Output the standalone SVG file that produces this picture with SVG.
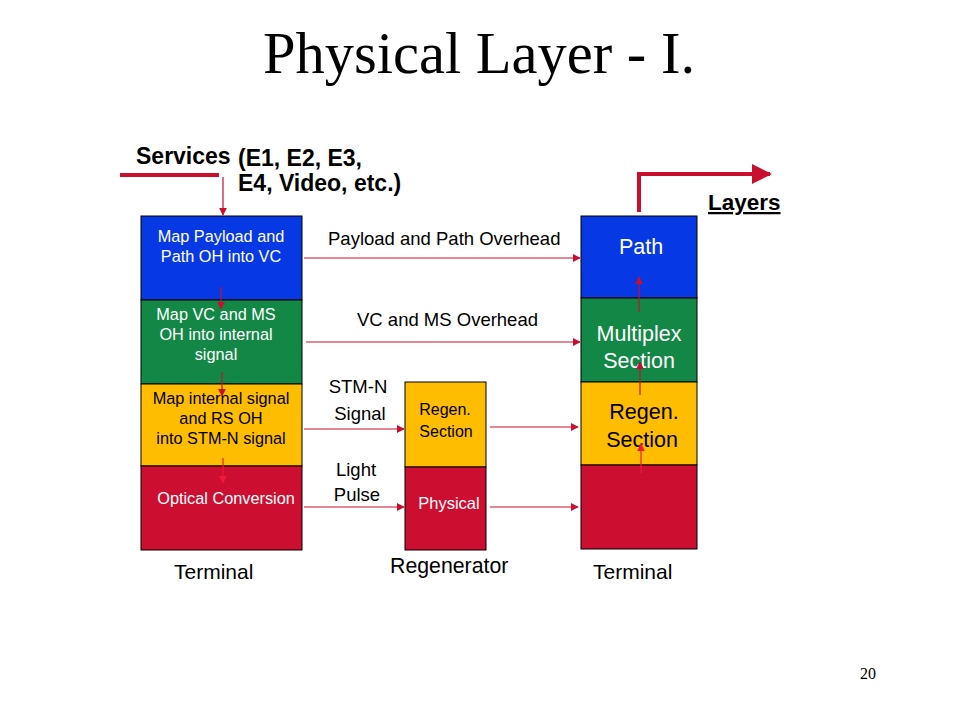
<svg xmlns="http://www.w3.org/2000/svg" width="960" height="720" viewBox="0 0 960 720">
<style>
.s{font-family:"Liberation Sans",Arial,sans-serif}
.w{fill:#fff}
.k{fill:#000}
.box{stroke:#000;stroke-width:1}
.blue{fill:#0639E4}
.green{fill:#138746}
.yellow{fill:#FFBD00}
.red{fill:#CC0E31}
.ln{stroke:#C8102E;stroke-width:1.2;fill:none}
.br{stroke:#F01A3A}
.thick{stroke:#C8102E;stroke-width:4;fill:none}
</style>
<defs>
<marker id="ah" viewBox="0 0 10 10" refX="9" refY="5" markerWidth="8" markerHeight="8" markerUnits="userSpaceOnUse" orient="auto"><path d="M0,0L10,5L0,10z" fill="#C8102E"/></marker>
<marker id="ahb" viewBox="0 0 10 10" refX="9" refY="5" markerWidth="8" markerHeight="8" markerUnits="userSpaceOnUse" orient="auto"><path d="M0,0L10,5L0,10z" fill="#F01A3A"/></marker>
<marker id="big" viewBox="0 0 10 10" refX="9" refY="5" markerWidth="5" markerHeight="5" orient="auto"><path d="M0,0L10,5L0,10z" fill="#C8102E"/></marker>
</defs>
<rect width="960" height="720" fill="#fff"/>
<text x="479" y="73" text-anchor="middle" font-family="Liberation Serif,serif" font-size="58.5" class="k">Physical Layer - I.</text>

<g id="left-terminal">
<rect class="box blue" x="141" y="216" width="161" height="84"/>
<rect class="box green" x="141" y="300" width="161" height="84"/>
<rect class="box yellow" x="141" y="384" width="161" height="82"/>
<rect class="box red" x="141" y="466" width="161" height="84"/>
<text class="s w" font-size="16.3" text-anchor="middle"><tspan x="221" y="242">Map Payload and</tspan><tspan x="221" y="262">Path OH into VC</tspan></text>
<text class="s w" font-size="16.3" text-anchor="middle"><tspan x="216" y="320">Map VC and MS</tspan><tspan x="216" y="340">OH into internal</tspan><tspan x="216" y="360">signal</tspan></text>
<text class="s k" font-size="16.3" text-anchor="middle"><tspan x="221" y="404">Map internal signal</tspan><tspan x="221" y="424">and RS OH</tspan><tspan x="221" y="444">into STM-N signal</tspan></text>
<text class="s w" font-size="16.3" text-anchor="middle" x="226" y="504">Optical Conversion</text>
<text class="s k" font-size="21" x="174" y="579">Terminal</text>
</g>

<g id="regenerator">
<rect class="box yellow" x="405" y="382" width="81" height="85"/>
<rect class="box red" x="405" y="467" width="81" height="83"/>
<text class="s k" font-size="16" text-anchor="middle"><tspan x="445" y="415">Regen.</tspan><tspan x="446" y="437">Section</tspan></text>
<text class="s w" font-size="16.5" text-anchor="middle" x="449" y="509">Physical</text>
<text class="s k" font-size="21.3" x="390" y="573">Regenerator</text>
</g>

<g id="right-terminal">
<rect class="box blue" x="581" y="216" width="116" height="82"/>
<rect class="box green" x="581" y="298" width="116" height="84"/>
<rect class="box yellow" x="581" y="382" width="116" height="83"/>
<rect class="box red" x="581" y="465" width="116" height="84"/>
<text class="s w" font-size="21.5" text-anchor="middle" x="641" y="254">Path</text>
<text class="s w" font-size="21.5" text-anchor="middle"><tspan x="639" y="341">Multiplex</tspan><tspan x="639" y="368">Section</tspan></text>
<text class="s k" font-size="21.5" text-anchor="middle"><tspan x="644" y="419">Regen.</tspan><tspan x="642" y="447">Section</tspan></text>
<text class="s k" font-size="21" x="593" y="579">Terminal</text>
</g>

<g id="labels">
<text class="s k" font-size="23" font-weight="bold" x="136" y="164">Services</text>
<text class="s k" font-size="23" font-weight="bold"><tspan x="238" y="166">(E1, E2, E3,</tspan><tspan x="238" y="191">E4, Video, etc.)</tspan></text>
<text class="s k" font-size="22.5" font-weight="bold" text-decoration="underline" x="708" y="210">Layers</text>
<text class="s k" font-size="18.5" x="328" y="245">Payload and Path Overhead</text>
<text class="s k" font-size="18.5" x="357" y="326">VC and MS Overhead</text>
<text class="s k" font-size="18.5" text-anchor="middle"><tspan x="358" y="393">STM-N</tspan><tspan x="360" y="420">Signal</tspan></text>
<text class="s k" font-size="18.5" text-anchor="middle"><tspan x="356" y="476">Light</tspan><tspan x="357" y="501">Pulse</tspan></text>
<text font-family="Liberation Serif,serif" font-size="16" class="k" x="860" y="679">20</text>
</g>

<g id="connectors">
<line class="thick" x1="120" y1="175" x2="219" y2="175"/>
<line class="ln" stroke-width="2" x1="223" y1="177" x2="223" y2="215" marker-end="url(#ah)"/>
<polyline class="thick" points="639,212 639,174 770,174" marker-end="url(#big)"/>
<line class="ln" x1="304" y1="258" x2="580" y2="258" marker-end="url(#ah)"/>
<line class="ln" x1="306" y1="342" x2="580" y2="342" marker-end="url(#ah)"/>
<line class="ln" x1="304" y1="429" x2="404" y2="429" marker-end="url(#ah)"/>
<line class="ln" x1="490" y1="427" x2="578" y2="427" marker-end="url(#ah)"/>
<line class="ln" x1="304" y1="507" x2="404" y2="507" marker-end="url(#ah)"/>
<line class="ln" x1="490" y1="507" x2="578" y2="507" marker-end="url(#ah)"/>
<line class="ln" x1="221" y1="287" x2="221" y2="309" marker-end="url(#ah)"/>
<line class="ln" x1="222" y1="372" x2="222" y2="396" marker-end="url(#ah)"/>
<line class="ln br" x1="223" y1="458" x2="223" y2="483" marker-end="url(#ahb)"/>
<line class="ln" x1="639" y1="312" x2="639" y2="277" marker-end="url(#ah)"/>
<line class="ln" x1="640" y1="395" x2="640" y2="362" marker-end="url(#ah)"/>
<line class="ln br" x1="641" y1="473" x2="641" y2="444" marker-end="url(#ahb)"/>
</g>
</svg>
